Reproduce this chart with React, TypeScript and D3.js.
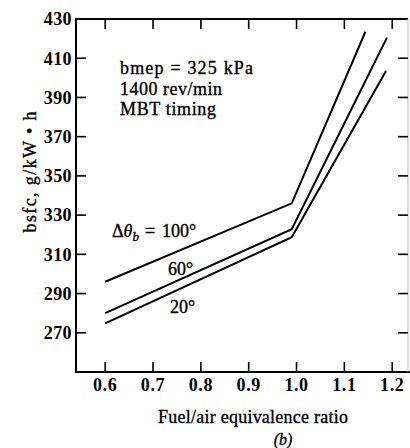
import React from "react";
import * as d3 from "d3";

const xTicks = [0.6, 0.7, 0.8, 0.9, 1.0, 1.1, 1.2];
const xTickLabels = ["0.6", "0.7", "0.8", "0.9", "1.0", "1.1", "1.2"];
const yTicks = [270, 290, 310, 330, 350, 370, 390, 410];
const yTickLabels = ["270", "290", "310", "330", "350", "370", "390", "410", "430"];
const yLabelValues = [270, 290, 310, 330, 350, 370, 390, 410, 430];

const phi100 = [0.6, 0.99, 1.144];
const bsfc100 = [296, 336, 423.5];
const phi60 = [0.6, 0.99, 1.189];
const bsfc60 = [280, 322.8, 420.5];
const phi20 = [0.6, 0.99, 1.187];
const bsfc20 = [274.8, 318.7, 403.5];

const seriesNames = ["100°", "60°", "20°"];

const W = 410;
const H = 448;
const left = 76, right = 408, top = 19, bottom = 372;
const FONT = "Liberation Serif";

export default function App() {
  const x = d3.scaleLinear().domain([0.539, 1.233]).range([left, right]);
  const y = d3.scaleLinear().domain([250, 430]).range([bottom, top]);
  const line = d3.line<[number, number]>().x((d) => x(d[0])).y((d) => y(d[1]));
  const series = [
    phi100.map((p, i) => [p, bsfc100[i]] as [number, number]),
    phi60.map((p, i) => [p, bsfc60[i]] as [number, number]),
    phi20.map((p, i) => [p, bsfc20[i]] as [number, number]),
  ];
  const tl = 10;
  const tf = { fontFamily: FONT };
  const heavy = { stroke: "#000", strokeWidth: 0.35 };
  return (
    <svg width={W} height={H} style={{ position: "absolute", left: 0, top: 0, background: "#fff", fontFamily: FONT }}>
      <rect x={0} y={0} width={W} height={H} fill="#fff" />
      {/* frame */}
      <line x1={left} x2={left} y1={top - 1} y2={bottom + 1} stroke="#000" strokeWidth={2} />
      <line x1={left} x2={right + 2} y1={bottom} y2={bottom} stroke="#000" strokeWidth={2} />
      <line x1={left} x2={right} y1={top} y2={top} stroke="#000" strokeWidth={2} />
      <line x1={right} x2={right} y1={top} y2={bottom} stroke="#bbb" strokeWidth={1} />
      {/* x ticks */}
      {xTicks.map((t, i) => (
        <g key={"xt" + i}>
          <line x1={x(t)} x2={x(t)} y1={bottom} y2={bottom - tl} stroke="#000" strokeWidth={1.6} />
          <line x1={x(t)} x2={x(t)} y1={top} y2={top + tl} stroke="#000" strokeWidth={1.6} />
          <text x={x(t)} y={391} textAnchor="middle" fontSize={18} fontWeight="bold" style={tf} letterSpacing={0.6}>
            {xTickLabels[i]}
          </text>
        </g>
      ))}
      {/* y ticks */}
      {yTicks.map((t, i) => (
        <g key={"yt" + i}>
          <line x1={left} x2={left + tl} y1={y(t)} y2={y(t)} stroke="#000" strokeWidth={1.6} />
          <line x1={right} x2={right - tl} y1={y(t)} y2={y(t)} stroke="#000" strokeWidth={1.6} />
        </g>
      ))}
      {yLabelValues.map((t, i) => (
        <text key={"yl" + i} x={72} y={y(t)} dy="0.35em" textAnchor="end" fontSize={18} fontWeight="bold" style={tf} letterSpacing={0.4}>
          {yTickLabels[i]}
        </text>
      ))}
      {/* series */}
      {series.map((s, i) => (
        <path key={"s" + i} d={line(s) || ""} fill="none" stroke="#000" strokeWidth={2} />
      ))}
      {/* annotations */}
      <text x={120} y={74} fontSize={18} style={{ ...tf, ...heavy }} textLength={133} lengthAdjust="spacing">bmep = 325 kPa</text>
      <text x={120} y={94.5} fontSize={18} style={{ ...tf, ...heavy }} textLength={102} lengthAdjust="spacing">1400 rev/min</text>
      <text x={120} y={115} fontSize={18} style={{ ...tf, ...heavy }} textLength={96} lengthAdjust="spacing">MBT timing</text>
      <text x={112} y={237} fontSize={18} style={{ ...tf, ...heavy }}>
        <tspan>Δ</tspan>
        <tspan fontStyle="italic">θ</tspan>
        <tspan fontStyle="italic" fontSize={13} dy={4}>b</tspan>
        <tspan dy={-4} dx={6}>=</tspan>
        <tspan dx={7}>{seriesNames[0]}</tspan>
      </text>
      <text x={168} y={275} fontSize={18} style={{ ...tf, ...heavy }}>{seriesNames[1]}</text>
      <text x={170} y={313} fontSize={18} style={{ ...tf, ...heavy }}>{seriesNames[2]}</text>
      {/* axis titles */}
      <text x={253} y={423} textAnchor="middle" fontSize={18} style={{ ...tf, ...heavy }} textLength={190} lengthAdjust="spacing">
        Fuel/air equivalence ratio
      </text>
      <text x={283} y={445} textAnchor="middle" fontSize={16} fontStyle="italic" style={{ ...tf, ...heavy }}>(b)</text>
      <text transform="translate(36,172) rotate(-90)" textAnchor="middle" fontSize={18} style={{ ...tf, ...heavy }} textLength={121} lengthAdjust="spacing">
        bsfc, g/kW • h
      </text>
    </svg>
  );
}
